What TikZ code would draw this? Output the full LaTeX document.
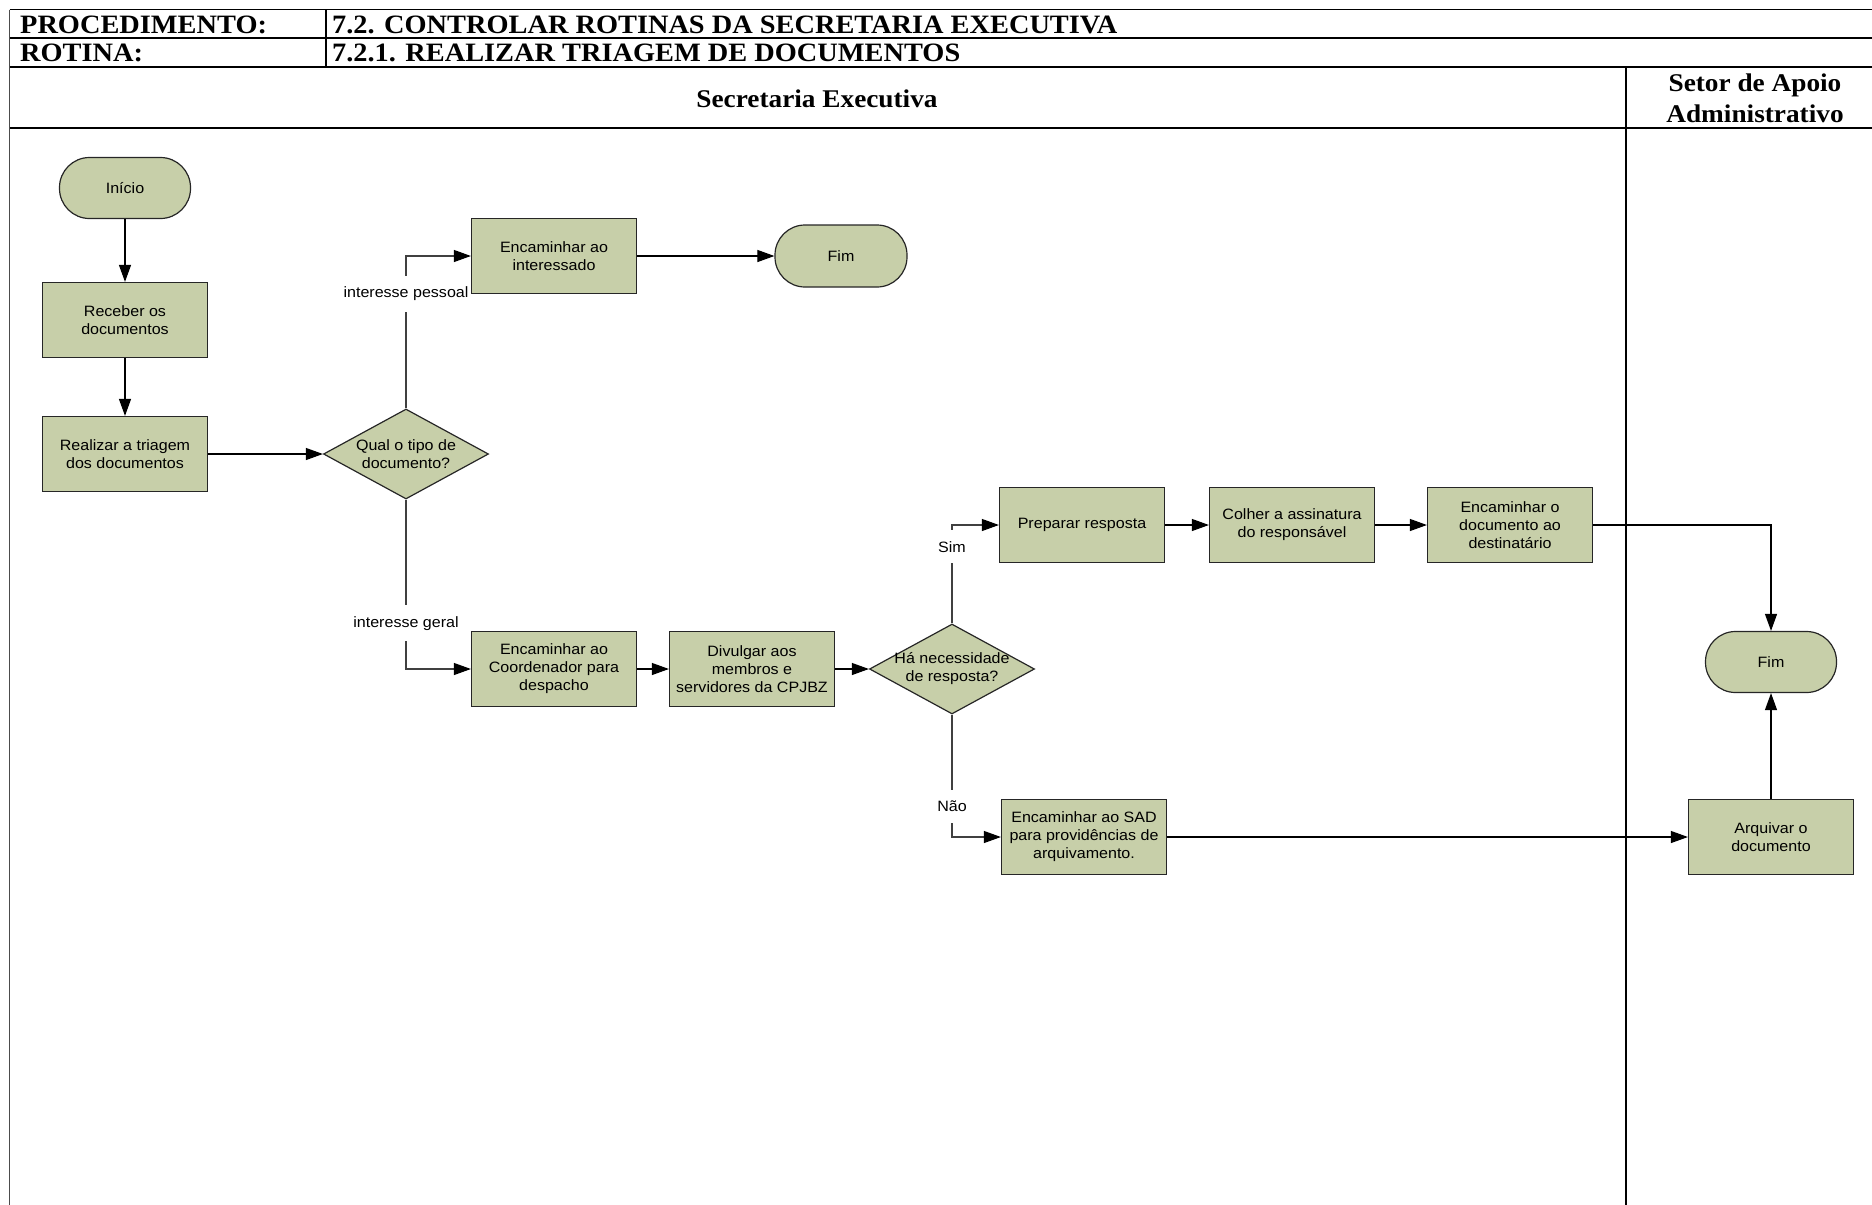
\documentclass[tikz,border=0pt]{standalone}
\usepackage{fontspec}
\setmainfont{Liberation Serif}[FakeStretch=1.07]
\setsansfont{Liberation Sans}[FakeStretch=1.07]
\usetikzlibrary{arrows.meta,shapes.geometric,calc}
\definecolor{boxfill}{RGB}{199,207,169}

\begin{document}
\begin{tikzpicture}[x=1pt,y=-1pt,
  every node/.style={inner sep=0pt},
  txt/.style={font=\sffamily\fontsize{15}{18}\selectfont},
  proc/.style={txt, draw=black!85, line width=1.2pt, fill=boxfill,
    minimum width=165pt, minimum height=75pt, align=center},
  term/.style={proc, minimum width=131pt, minimum height=61pt, rounded corners=30pt},
  decision/.style={diamond, draw=black!85, line width=1.2pt, fill=boxfill,
    minimum width=165pt, minimum height=90pt},
  dtext/.style={txt, align=center},
  flow/.style={line width=1.1pt, -{Triangle[length=17pt,width=12pt,color=black]}},
  branch/.style={flow, draw=black!75},
  lbl/.style={txt, fill=white, inner xsep=1pt, inner ysep=11pt},
  hdr/.style={font=\bfseries\fontsize{26.5}{28}\selectfont, anchor=base west},
  lane/.style={font=\bfseries\fontsize{25.5}{31}\selectfont, align=center},
  rule/.style={line width=1.5pt},
]
\useasboundingbox (0,0) rectangle (1872,1205);

% header table
\draw[rule] (9.6,9.6) -- (1872,9.6);
\draw[rule] (9.6,38) -- (1872,38);
\draw[rule] (9.6,67) -- (1872,67);
\draw[rule] (9.6,128) -- (1872,128);
\draw[rule] (326,9.6) -- (326,67);
\draw[line width=1.2pt, black!70] (9.6,9.6) -- (9.6,1205);
\draw[line width=1.2pt] (1626,67) -- (1626,1205);

\node[hdr] (hproc) at (20,33) {PROCEDIMENTO:};
\node[hdr] (htit) at (332,33) {7.2. CONTROLAR ROTINAS DA SECRETARIA EXECUTIVA};
\node[hdr] (hrot) at (20,61) {ROTINA:};
\node[hdr] (hsub) at (332,61) {7.2.1. REALIZAR TRIAGEM DE DOCUMENTOS};
\node[lane] (lsec) at (817,99) {Secretaria Executiva};
\node[lane] (lsad) at (1755,98) {Setor de Apoio\\Administrativo};

% flowchart nodes
\node[term] (ini) at (125,188) {Início};
\node[proc] (rec) at (125,320) {Receber os\\documentos};
\node[proc] (tri) at (125,454) {Realizar a triagem\\dos documentos};
\node[decision, label={[dtext]center:Qual o tipo de\\documento?}] (q1) at (406,454) {};
\node[proc] (int) at (554,256) {Encaminhar ao\\interessado};
\node[term, minimum width=132pt, minimum height=62pt] (fim1) at (841,256) {Fim};
\node[proc] (coo) at (554,669) {Encaminhar ao\\Coordenador para\\despacho};
\node[proc] (div) at (752,669) {Divulgar aos\\membros e\\servidores da CPJBZ};
\node[decision, label={[dtext]center:Há necessidade\\de resposta?}] (q2) at (952,669) {};
\node[proc] (prep) at (1082,525) {Preparar resposta};
\node[proc] (col) at (1292,525) {Colher a assinatura\\do responsável};
\node[proc] (dest) at (1510,525) {Encaminhar o\\documento ao\\destinatário};
\node[term] (fim2) at (1771,662) {Fim};
\node[proc] (sad) at (1084,837) {Encaminhar ao SAD\\para providências de\\arquivamento.};
\node[proc] (arq) at (1771,837) {Arquivar o\\documento};

% connectors
\draw[flow] (ini) -- (rec);
\draw[flow] (rec) -- (tri);
\draw[flow] (tri) -- (q1);
\draw[branch] (q1.north) -- node[lbl, pos=.75] {interesse pessoal} (q1.north |- int.west) -- (int.west);
\draw[flow] (int) -- (fim1);
\draw[branch] (q1.south) -- node[lbl, pos=.73] {interesse geral} (q1.south |- coo.west) -- (coo.west);
\draw[flow] (coo) -- (div);
\draw[flow] (div) -- (q2);
\draw[branch] (q2.north) -- node[lbl, pos=.78] {Sim} (q2.north |- prep.west) -- (prep.west);
\draw[flow] (prep) -- (col);
\draw[flow] (col) -- (dest);
\draw[flow] (dest.east) -| (fim2.north);
\draw[branch] (q2.south) -- node[lbl, pos=.75] {Não} (q2.south |- sad.west) -- (sad.west);
\draw[flow] (sad) -- (arq);
\draw[flow] (arq) -- (fim2);
\end{tikzpicture}
\end{document}
